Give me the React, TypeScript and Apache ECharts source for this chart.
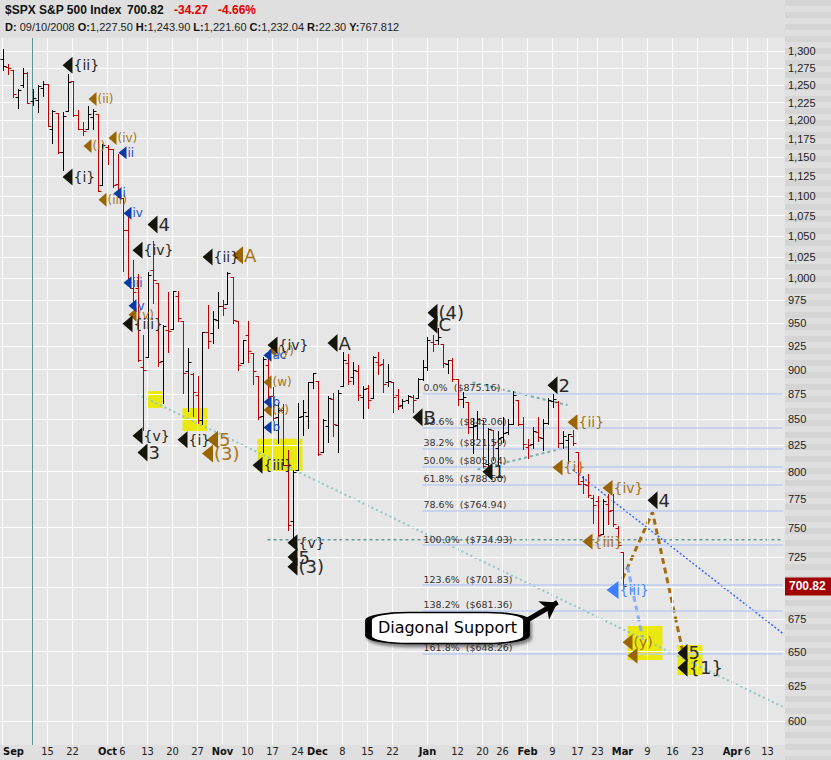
import React, { useEffect, useRef } from 'react';
import * as echarts from 'echarts';

// ---------- calendar ----------
const HOLIDAYS = ['2008-11-27', '2008-12-25', '2009-01-01', '2009-01-19', '2009-02-16', '2009-04-10'];
const FIRST_DAY = '2008-09-02';
const LAST_DAY = '2009-04-16';

function buildTradingDays(): string[] {
  const out: string[] = [];
  const d = new Date(FIRST_DAY + 'T00:00:00Z');
  const end = new Date(LAST_DAY + 'T00:00:00Z');
  while (d.getTime() <= end.getTime()) {
    const dow = d.getUTCDay();
    const s = d.toISOString().slice(0, 10);
    if (dow !== 0 && dow !== 6 && HOLIDAYS.indexOf(s) < 0) out.push(s);
    d.setUTCDate(d.getUTCDate() + 1);
  }
  return out;
}
const dates = buildTradingDays();

// ---------- price data (Sep 2, 2008 .. Mar 2, 2009) ----------
const opens = [1287.83,1276.61,1271.8,1233.21,1249.5,1267.98,1227.5,1229.04,1245.88,1250.92,1188.31,1210.34,1157.08,1213.11,1255.37,1207.61,1188.79,1187.87,1204.47,1209.07,1113.78,
1164.17,1160.64,1115.16,1097.56,1057.6,988.91,988.42,902.31,912.75,1009.97,994.6,909.53,942.29,943.51,980.4,951.67,899.08,895.22,874.28,848.92,939.51,939.38,953.11,
968.67,971.31,1001.84,952.4,907.44,936.75,917.15,893.39,853.13,904.36,873.23,852.34,859.03,805.87,755.84,801.2,853.4,852.9,886.89,
888.61,817.94,843.6,869.75,844.43,882.71,906.48,892.17,898.35,871.79,881.07,871.53,908.16,905.98,886.96,887.2,874.31,863.87,869.51,872.37,870.58,890.59,
902.99,929.17,931.17,927.45,905.73,909.91,890.4,869.79,867.28,841.99,844.45,849.64,806.77,839.74,822.16,832.5,837.3,845.73,868.89,845.69,
823.09,825.69,837.77,831.75,846.09,868.24,866.87,827.41,829.91,833.95,818.61,791.06,787.91,775.87,773.25,744.69,770.64,765.76,749.93,
729.57];
const highs = [1303.04,1280.6,1271.8,1244.94,1274.42,1268.66,1243.9,1249.98,1255.09,1250.92,1214.84,1210.34,1211.14,1265.33,1255.37,1214.46,1197.41,1220.03,1215.77,1209.07,1168.03,
1167.03,1160.64,1153.82,1097.56,1072.91,1021.06,1005.25,936.36,1006.93,1044.31,994.6,947.71,984.64,985.4,985.44,951.67,922.83,896.3,893.78,940.51,969.97,963.23,984.38,
975.57,1007.51,1001.84,952.4,931.46,951.95,917.15,893.39,913.01,916.88,882.29,865.9,864.57,820.52,801.2,865.6,868.94,887.68,896.25,
888.61,850.54,873.12,875.6,879.42,918.57,916.26,908.27,904.63,883.24,884.63,914.66,918.85,911.02,905.47,887.37,880.44,869.79,873.74,873.7,891.12,910.32,
934.73,936.63,943.85,927.45,910.0,911.93,890.4,877.02,867.28,851.59,858.13,849.64,841.72,839.74,838.61,852.53,850.45,877.86,868.89,851.66,
830.78,842.6,851.85,850.55,870.75,875.01,868.05,838.22,835.48,839.43,818.61,796.17,797.58,778.69,777.85,775.49,780.12,779.42,751.27,
729.57];
const lows = [1272.2,1265.59,1232.83,1217.23,1247.12,1224.51,1221.6,1211.54,1233.81,1192.7,1169.28,1155.88,1133.5,1213.11,1205.61,1187.47,1179.79,1187.87,1187.54,1106.42,1113.78,
1140.77,1111.43,1098.14,1007.97,996.23,970.97,909.19,839.8,912.75,972.07,903.99,865.83,918.74,943.51,952.47,875.81,858.44,852.85,846.75,845.27,922.26,928.5,944.59,
958.82,971.31,949.86,899.73,906.9,907.47,884.9,850.48,818.69,869.88,848.98,826.84,806.18,747.78,741.02,801.2,834.99,841.37,881.21,
815.69,817.94,827.6,833.6,818.41,882.71,885.38,885.45,868.73,851.35,860.97,871.53,895.94,877.44,883.02,857.09,860.1,861.44,866.52,857.07,870.58,889.67,
899.35,919.53,927.28,902.37,896.81,888.31,864.32,862.02,836.93,817.04,830.66,804.47,804.3,811.29,806.07,827.69,835.4,845.73,844.15,821.67,
812.87,821.98,829.18,819.91,845.42,861.65,822.99,822.3,808.06,825.21,789.17,780.43,777.03,754.25,742.37,744.69,752.89,751.75,734.52,
699.7];
const closes = [1277.58,1274.98,1236.83,1242.31,1267.79,1224.51,1232.04,1249.05,1251.7,1192.7,1213.6,1156.39,1206.51,1255.08,1207.09,1188.22,1185.87,1209.18,1213.27,1106.39,1166.36,
1161.06,1114.28,1099.23,1056.89,996.23,984.94,909.92,899.22,1003.35,998.01,907.84,946.43,940.55,985.4,955.05,896.78,908.11,876.77,848.92,940.51,930.09,954.09,968.75,
966.3,1005.75,952.77,904.88,930.99,919.21,898.95,852.3,911.29,873.29,850.75,859.12,806.58,752.44,800.03,851.81,857.39,887.68,896.24,
816.21,848.81,870.74,845.22,876.07,909.7,888.67,899.24,873.59,879.73,868.57,913.18,904.42,885.28,887.88,871.63,863.16,868.15,872.8,869.42,890.64,903.25,
931.8,927.45,934.7,906.65,909.73,890.35,870.26,871.79,842.62,843.74,850.12,805.22,840.24,827.5,831.95,836.57,845.71,874.09,845.14,825.88,
825.44,838.51,832.23,845.85,868.6,869.89,827.16,833.74,835.19,826.84,789.17,788.42,778.94,770.05,743.33,773.14,764.9,752.83,735.09,
700.82];

// ---------- axes ----------
const yTickValues = [600,625,650,675,700,725,750,775,800,825,850,875,900,925,950,975,1000,1025,1050,1075,1100,1125,1150,1175,1200,1225,1250,1275,1300];
const xTickLabels: [string, string][] = [
  ['2008-09-02','Sep'],['2008-09-15','15'],['2008-09-22','22'],['2008-10-01','Oct'],['2008-10-06','6'],['2008-10-13','13'],
  ['2008-10-20','20'],['2008-10-27','27'],['2008-11-03','Nov'],['2008-11-10','10'],['2008-11-17','17'],['2008-11-24','24'],
  ['2008-12-01','Dec'],['2008-12-08','8'],['2008-12-15','15'],['2008-12-22','22'],['2009-01-02','Jan'],['2009-01-12','12'],
  ['2009-01-20','20'],['2009-01-26','26'],['2009-02-02','Feb'],['2009-02-09','9'],['2009-02-17','17'],['2009-02-23','23'],
  ['2009-03-02','Mar'],['2009-03-09','9'],['2009-03-16','16'],['2009-03-23','23'],['2009-04-01','Apr'],['2009-04-06','6'],['2009-04-13','13'],
];
const MONTHS = ['Sep','Oct','Nov','Dec','Jan','Feb','Mar','Apr'];
const crosshairDate = '2008-09-10';
const lastPrice = 700.82;

// ---------- Fibonacci levels ----------
const fibPct = ['0.0%','23.6%','38.2%','50.0%','61.8%','78.6%','100.0%','123.6%','138.2%','161.8%'];
const fibVal = [875.16, 842.06, 821.59, 805.04, 788.50, 764.94, 734.93, 701.83, 681.36, 648.26];
const fibStart = '2008-12-31';

// ---------- wave labels [date, price, text, size class] ----------
const blackMarks: [string, number, string, number][] = [
  ['2008-09-19',1279,'{ii}',0],['2008-09-19',1124,'{i}',0],['2008-10-14',1064,'4',1],['2008-10-09',1033,'{iv}',0],
  ['2008-10-29',1025,'{ii}',0],['2008-10-07',949,'{iii}',0],['2008-10-09',834,'{v}',0],['2008-10-10',818,'3',1],
  ['2008-10-22',830,'{i}',0],['2008-11-12',806,'{iii}',0],['2008-11-17',926,'{iv}',0],['2008-12-04',928,'A',1],
  ['2008-11-21',737,'{v}',0],['2008-11-21',725,'5',1],['2008-11-21',717,'(3)',1],['2008-12-30',852,'B',1],
  ['2009-01-05',961,'(4)',1],['2009-01-05',948,'C',1],['2009-01-21',800,'1',1],['2009-02-09',884,'2',1],
  ['2009-03-10',774,'4',1],['2009-03-18',649,'5',1],['2009-03-18',638,'{1}',1],
];
const brownMarks: [string, number, string, number][] = [
  ['2008-09-26',1230,'(ii)',0],['2008-09-25',1165,'(i)',0],['2008-10-02',1176,'(iv)',0],['2008-09-30',1095,'(iii)',0],
  ['2008-10-08',959,'(v)',0],['2008-11-06',1027,'A',1],['2008-10-30',830,'5',1],['2008-10-29',817,'(3)',1],
  ['2008-11-17',920,'(y)',0],['2008-11-14',887,'(w)',0],['2008-11-14',859,'(x)',0],
  ['2009-02-13',847,'{ii}',2],['2009-02-10',804,'{i}',2],['2009-02-25',785,'{iv}',2],['2009-02-19',738,'{iii}',2],
  ['2009-03-03',657,'(y)',2],['2009-03-04',647,'',2],
];
const blueMarks: [string, number, string, number][] = [
  ['2008-10-06',1156,'ii',0],['2008-10-03',1103,'i',0],['2008-10-07',1078,'iv',0],['2008-10-07',995,'iii',0],
  ['2008-10-08',969,'v',0],['2008-11-14',915,'ac',0],['2008-11-14',867,'b',0],['2008-11-14',842,'b',0],
];
const lightBlueMarks: [string, number, string, number][] = [['2009-02-26',698,'{iii}',0]];

// ---------- highlight boxes [date1, price1, date2, price2] ----------
const yellowBoxes: [string, number, string, number][] = [
  ['2008-10-13',878,'2008-10-16',861],
  ['2008-10-22',861,'2008-10-29',838.5],
  ['2008-11-12',831,'2008-11-25',800],
  ['2009-03-03',669.5,'2009-03-12',643.8],
  ['2009-03-17',655,'2009-03-24',632.7],
];

// ---------- trend lines ----------
const diagonalSupport: [string, number][] = [['2008-10-09',875],['2009-04-16',610]];
const triangleUpper: [string, number][] = [['2009-01-15',887],['2009-02-12',864]];
const triangleLower: [string, number][] = [['2009-01-16',802],['2009-02-12',823]];
const blueChannel: [string, number][] = [['2009-02-13',802],['2009-04-16',664]];
const level740: [string, number][] = [['2008-11-14',739.5],['2009-04-16',739.5]];
const brownProjection: [string, number][] = [['2009-03-02',707],['2009-03-10',763.6],['2009-03-18',651]];
const blueProjection: [string, number][] = [['2009-03-03',717],['2009-03-06',661]];
const calloutAt: [string, number] = ['2009-01-08', 668];
const arrowFrom: [string, number] = ['2009-01-30', 672];
const arrowTo: [string, number] = ['2009-02-10', 688];

const TRI = 'path://M10,0L0,7L10,14Z';
const FONT = 'DejaVu Sans';

function fmtNum(v: number): string {
  if (v >= 1000) return Math.floor(v / 1000) + ',' + String(v % 1000).padStart(3, '0');
  return String(v);
}

function markSeries(name: string, marks: [string, number, string, number][], tri: string, txt: string,
  sizes: number[][], fonts: number[], z: number) {
  return {
    name, type: 'scatter', z, silent: true, symbol: TRI,
    itemStyle: { color: tri, opacity: 1 },
    label: { show: true, position: 'right', distance: 1, formatter: '{b}', color: txt, fontFamily: FONT },
    data: marks.map(([d, p, t, big]) => ({
      value: [d, p], name: t, symbolSize: sizes[big],
      label: { fontSize: fonts[big] },
    })),
  };
}

function line(data: [string, number][], color: string, width: number, type: any, z: number, opacity = 1) {
  return {
    type: 'line', z, silent: true, symbol: 'none', data,
    lineStyle: { color, width, type, opacity }, animation: false,
  };
}

export default function App() {
  const ref = useRef<HTMLDivElement>(null);
  useEffect(() => {
    document.body.style.margin = '0';
    const chart = echarts.init(ref.current!, null, { renderer: 'svg' });
    const labelMap: Record<string, string> = {};
    xTickLabels.forEach(([d, l]) => { labelMap[d] = l; });
    const labelIdx = new Set(xTickLabels.map(([d]) => dates.indexOf(d)));

    const ohlc = closes.map((c, i) => [dates[i], opens[i], highs[i], lows[i], c, i > 0 && c < closes[i - 1] ? 1 : 0]);

    const stripes: any[] = [];
    for (let y = 0; y < 760; y += 12) {
      stripes.push({ type: 'rect', z: -1, silent: true, shape: { x: 785, y, width: 46, height: 6 }, style: { fill: '#d5d5d5' } });
    }

    const gridLines: any[] = [
      // the 700 label is covered by the last-price tag, as in the source chart
      ...yTickValues.map((v) => ({ yAxis: v, label: { show: Math.abs(v - lastPrice) > 10, formatter: fmtNum(v) } })),
      ...xTickLabels.map(([d]) => ({ xAxis: d, label: { show: false } })),
      { xAxis: crosshairDate, label: { show: false }, lineStyle: { color: '#5f9396', width: 1, type: 'solid' } },
    ];

    const option: any = {
      animation: false,
      backgroundColor: '#dfdfdf',
      grid: { left: 0, right: 46, top: 38, bottom: 15, show: true, backgroundColor: '#e6e6e6', borderWidth: 0 },
      xAxis: {
        type: 'category', data: dates, boundaryGap: true,
        axisLine: { show: false }, axisTick: { show: false }, splitLine: { show: false },
        axisLabel: {
          interval: (i: number) => labelIdx.has(i),
          margin: 1, fontSize: 11, color: '#222', fontFamily: 'DejaVu Sans Condensed',
          formatter: (val: string) => {
            const l = labelMap[val] || '';
            if (val === dates[0]) return '{s|' + l + '}';
            return MONTHS.indexOf(l) >= 0 ? '{m|' + l + '}' : l;
          },
          rich: {
            m: { fontWeight: 'bold', fontSize: 11, color: '#111', fontFamily: 'DejaVu Sans Condensed' },
            s: { fontWeight: 'bold', fontSize: 11, color: '#111', fontFamily: 'DejaVu Sans Condensed', padding: [0, 0, 0, 22] },
          },
        },
      },
      yAxis: {
        type: 'log', logBase: 10, min: 583.6, max: 1319.7, position: 'right',
        axisLine: { show: false }, axisTick: { show: false }, axisLabel: { show: false }, splitLine: { show: false },
      },
      graphic: [
        ...stripes,
        { type: 'text', z: 10, left: 5, top: 4, style: { text: '$SPX S&P 500 Index', font: 'bold 12px "Liberation Sans"', fill: '#111' } },
        { type: 'text', z: 10, left: 127, top: 4, style: { text: '700.82', font: 'bold 12px "Liberation Sans"', fill: '#111' } },
        { type: 'text', z: 10, left: 174, top: 4, style: { text: '-34.27', font: 'bold 12px "Liberation Sans"', fill: '#e00000' } },
        { type: 'text', z: 10, left: 218, top: 4, style: { text: '-4.66%', font: 'bold 12px "Liberation Sans"', fill: '#e00000' } },
        {
          type: 'text', z: 10, left: 5, top: 21,
          style: {
            text: '{b|D:} 09/10/2008 {b|O:}1,227.50 {b|H:}1,243.90 {b|L:}1,221.60 {b|C:}1,232.04 {b|R:}22.30 {b|Y:}767.812',
            font: '11px "Liberation Sans"', fill: '#222',
            rich: { b: { fontWeight: 'bold', fontSize: 11, fontFamily: 'Liberation Sans', fill: '#111' } },
          },
        },
      ],
      series: [
        {
          name: 'grid', type: 'line', z: 1, silent: true, symbol: 'none', data: [[dates[0], 1000]],
          lineStyle: { opacity: 0 },
          markLine: {
            silent: true, symbol: ['none', 'none'], animation: false,
            lineStyle: { color: '#ffffff', width: 1, type: 'solid' },
            label: { position: 'end', distance: 3, color: '#222', fontSize: 11, fontFamily: 'Liberation Sans' },
            data: gridLines,
          },
        },
        {
          name: 'fib', type: 'line', z: 2, silent: true, symbol: 'none', data: [[dates[0], 1000]],
          lineStyle: { opacity: 0 },
          markLine: {
            silent: true, symbol: ['none', 'none'], animation: false,
            lineStyle: { color: '#bccbf0', width: 1.5, type: 'solid' },
            label: { show: true, position: 'insideStartTop', distance: 1, color: '#333', fontSize: 9.5, fontFamily: FONT },
            data: fibVal.map((v, i) => [
              { coord: [fibStart, v], label: { formatter: fibPct[i] + '  ($' + v.toFixed(2) + ')' } },
              { coord: [dates[dates.length - 1], v] },
            ]),
          },
        },
        {
          name: 'boxes', type: 'line', z: 3, silent: true, symbol: 'none', data: [[dates[0], 1000]],
          lineStyle: { opacity: 0 },
          markArea: {
            silent: true, itemStyle: { color: '#e9e90f', opacity: 1 },
            data: yellowBoxes.map(([d1, p1, d2, p2]) => [{ coord: [d1, p1] }, { coord: [d2, p2] }]),
          },
        },
        line(diagonalSupport, '#8fc6c6', 2, [2, 3], 4),
        line(triangleUpper, '#78aeb0', 2, [3, 3], 4),
        line(triangleLower, '#78aeb0', 2, [3, 3], 4),
        line(level740, '#5f9a9a', 1.5, [3, 3], 4),
        line(blueChannel, '#3a68ff', 1.5, [2, 2], 4),
        line(brownProjection, '#a36c10', 3, [6, 4], 4),
        line(blueProjection, '#7ea6ff', 3, [6, 4], 4, 0.9),
        {
          name: 'SPX', type: 'custom', z: 5, silent: true,
          dimensions: ['date', 'open', 'high', 'low', 'close', 'down'],
          encode: { x: 0, y: [1, 2, 3, 4] },
          data: ohlc,
          renderItem: (params: any, api: any) => {
            const xi = api.value(0);
            const pO = api.coord([xi, api.value(1)]);
            const pH = api.coord([xi, api.value(2)]);
            const pL = api.coord([xi, api.value(3)]);
            const pC = api.coord([xi, api.value(4)]);
            const x = Math.round(pO[0]) + 0.5;
            const col = api.value(5) ? '#c00000' : '#000000';
            const st = { stroke: col, lineWidth: 1 };
            const ry = (y: number) => Math.round(y) + 0.5;
            return {
              type: 'group', children: [
                { type: 'line', shape: { x1: x, y1: Math.round(pH[1]), x2: x, y2: Math.round(pL[1]) + 1 }, style: st },
                { type: 'line', shape: { x1: x - 3, y1: ry(pO[1]), x2: x, y2: ry(pO[1]) }, style: st },
                { type: 'line', shape: { x1: x, y1: ry(pC[1]), x2: x + 3, y2: ry(pC[1]) }, style: st },
              ],
            };
          },
        },
        markSeries('brown', brownMarks, '#9a6400', '#a87418', [[8, 14], [11, 18], [10, 16]], [12, 18, 14], 6),
        markSeries('blue', blueMarks, '#0a3aa8', '#1e4fc0', [[8, 13], [8, 13], [8, 13]], [12, 12, 12], 7),
        markSeries('black', blackMarks, '#14140a', '#2a2a2a', [[10, 17], [10, 18], [10, 18]], [14, 18, 18], 8),
        markSeries('lightblue', lightBlueMarks, '#3d7eff', '#4d8cff', [[12, 18], [12, 18], [12, 18]], [14, 14, 14], 8),
        {
          name: 'arrow', type: 'line', z: 9, silent: true, symbol: 'none', data: [[dates[0], 1000]],
          lineStyle: { opacity: 0 },
          markLine: {
            silent: true, symbol: ['none', 'arrow'], symbolSize: 16, animation: false,
            lineStyle: { color: '#000', width: 5, type: 'solid', curveness: -0.25 },
            label: { show: false },
            data: [[{ coord: arrowFrom }, { coord: arrowTo }]],
          },
        },
        {
          name: 'callout', type: 'line', z: 10, silent: true, symbol: 'none', data: [[dates[0], 1000]],
          lineStyle: { opacity: 0 },
          markPoint: {
            silent: true, symbol: 'roundRect', symbolSize: [158, 31], animation: false,
            itemStyle: { color: '#ffffff', borderColor: '#000', borderWidth: 3, shadowBlur: 3, shadowColor: 'rgba(0,0,0,0.45)', shadowOffsetX: 2, shadowOffsetY: 3 },
            label: { show: true, position: 'inside', formatter: 'Diagonal Support', color: '#000', fontSize: 16, fontFamily: FONT },
            data: [{ coord: calloutAt, name: 'Diagonal Support' }],
          },
        },
        {
          name: 'lastPrice', type: 'line', z: 11, silent: true, symbol: 'none', data: [[dates[0], 1000]],
          lineStyle: { opacity: 0 },
          markLine: {
            silent: true, symbol: ['none', 'none'], animation: false,
            lineStyle: { color: 'rgba(0,0,0,0)', width: 1, opacity: 1, type: 'solid' },
            label: {
              show: true, position: 'end', distance: 0, formatter: lastPrice.toFixed(2),
              backgroundColor: '#a30000', color: '#ffffff', fontWeight: 'bold', fontSize: 12,
              fontFamily: 'Liberation Sans', padding: [3, 6, 3, 4],
            },
            data: [{ yAxis: lastPrice }],
          },
        },
      ],
    };
    chart.setOption(option);
    return () => chart.dispose();
  }, []);
  return <div ref={ref} style={{ width: 831, height: 760 }} />;
}
